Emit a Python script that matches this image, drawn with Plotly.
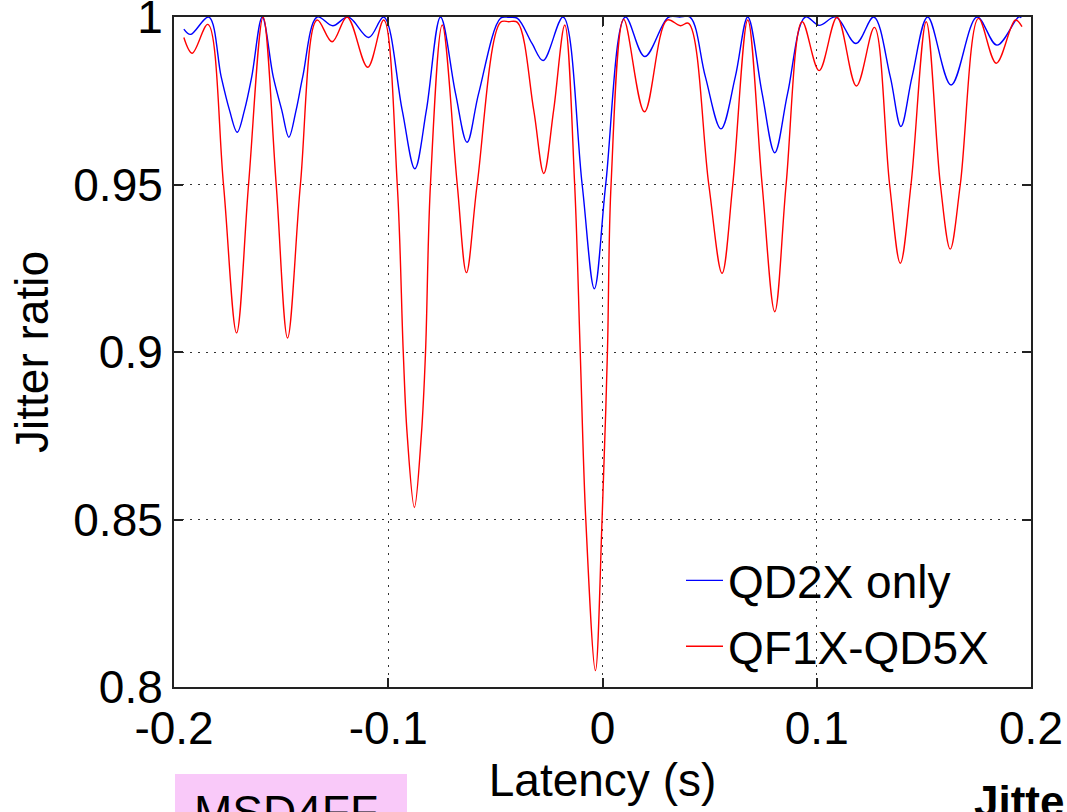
import plotly.graph_objects as go

# Latency scan of the jitter ratio for two corrector configurations
qd2x_latency = [
    -0.1954, -0.1923, -0.1838, -0.1780, -0.1741, -0.1705, -0.1671, -0.1637,
    -0.1588, -0.1537, -0.1497, -0.1464, -0.1430, -0.1399, -0.1332, -0.1259,
    -0.1187, -0.1091, -0.1021, -0.0935, -0.0876, -0.0822, -0.0756, -0.0686,
    -0.0632, -0.0578, -0.0476, -0.0437, -0.0397, -0.0329, -0.0277, -0.0184,
    -0.0095, -0.0038, 0.0015, 0.0107, 0.0197, 0.0307, 0.0360, 0.0410,
    0.0480, 0.0553, 0.0620, 0.0678, 0.0745, 0.0804, 0.0864, 0.0947,
    0.1011, 0.1089, 0.1183, 0.1266, 0.1343, 0.1393, 0.1445, 0.1518,
    0.1627, 0.1748, 0.1841, 0.1942, 0.1955,
]
qd2x_ratio = [
    0.9964, 0.9948, 1.0000, 0.9822, 0.9722, 0.9656, 0.9722, 0.9822,
    1.0000, 0.9822, 0.9722, 0.9641, 0.9722, 0.9822, 1.0000, 0.9974,
    1.0000, 0.9939, 1.0000, 0.9722, 0.9547, 0.9722, 1.0000, 0.9772,
    0.9626, 0.9772, 0.9996, 0.9999, 0.9996, 0.9921, 0.9870, 1.0000,
    0.9500, 0.9189, 0.9500, 1.0000, 0.9882, 0.9999, 1.0000, 0.9999,
    0.9822, 0.9666, 0.9822, 1.0000, 0.9772, 0.9595, 0.9772, 1.0000,
    0.9975, 1.0000, 0.9921, 1.0000, 0.9822, 0.9673, 0.9822, 1.0000,
    0.9797, 1.0000, 0.9916, 1.0000, 0.9998,
]

qf1x_latency = [
    -0.1954, -0.1915, -0.1842, -0.1769, -0.1708, -0.1652, -0.1584, -0.1523,
    -0.1470, -0.1410, -0.1332, -0.1262, -0.1192, -0.1096, -0.1021, -0.0958,
    -0.0930, -0.0912, -0.0878, -0.0845, -0.0826, -0.0803, -0.0748, -0.0678,
    -0.0635, -0.0585, -0.0476, -0.0437, -0.0397, -0.0321, -0.0274, -0.0228,
    -0.0176, -0.0130, -0.0104, -0.0078, -0.0033, -0.0002, 0.0023, 0.0040,
    0.0099, 0.0196, 0.0301, 0.0363, 0.0402, 0.0496, 0.0558, 0.0608,
    0.0678, 0.0745, 0.0804, 0.0857, 0.0932, 0.1011, 0.1095, 0.1185,
    0.1269, 0.1340, 0.1390, 0.1440, 0.1511, 0.1577, 0.1623, 0.1670,
    0.1755, 0.1838, 0.1927, 0.1958,
]
qf1x_ratio = [
    0.9939, 0.9892, 0.9978, 0.9500, 0.9057, 0.9500, 1.0000, 0.9500,
    0.9042, 0.9500, 0.9991, 0.9926, 1.0000, 0.9850, 0.9991, 0.9500,
    0.9000, 0.8757, 0.8536, 0.8757, 0.9000, 0.9500, 0.9976, 0.9500,
    0.9237, 0.9500, 0.9984, 0.9986, 0.9984, 0.9722, 0.9533, 0.9722,
    0.9976, 0.9500, 0.9000, 0.8500, 0.8049, 0.8500, 0.9000, 0.9500,
    0.9993, 0.9717, 0.9991, 0.9974, 0.9981, 0.9500, 0.9235, 0.9500,
    0.9991, 0.9500, 0.9120, 0.9500, 0.9986, 0.9840, 0.9999, 0.9794,
    0.9969, 0.9500, 0.9265, 0.9500, 0.9986, 0.9500, 0.9307, 0.9500,
    0.9996, 0.9862, 0.9991, 0.9971,
]

x_ticks = [-0.2, -0.1, 0.0, 0.1, 0.2]
x_tick_labels = ["-0.2", "-0.1", "0", "0.1", "0.2"]
y_ticks = [0.8, 0.85, 0.9, 0.95, 1.0]
y_tick_labels = ["0.8", "0.85", "0.9", "0.95", "1"]

FONT = "Liberation Sans, Arial, Helvetica, sans-serif"

fig = go.Figure()
fig.add_trace(go.Scatter(
    x=qd2x_latency, y=qd2x_ratio, mode="lines", name="QD2X only",
    line=dict(color="#0000ff", width=1.4, shape="spline", smoothing=1.0),
    legendgroup="a",
))
fig.add_trace(go.Scatter(
    x=qf1x_latency, y=qf1x_ratio, mode="lines", name="QF1X-QD5X",
    line=dict(color="#ff0000", width=1.4, shape="spline", smoothing=1.0),
    legendgroup="b",
))

axis_common = dict(
    showline=True, linecolor="#222222", linewidth=2, mirror="ticks",
    ticks="inside", ticklen=9, tickwidth=1.5, tickcolor="#222222",
    showgrid=True, gridcolor="#333333", gridwidth=1.3, griddash="2px,6px",
    zeroline=False, tickfont=dict(family=FONT, size=46, color="black"),
    automargin=False, ticklabeloverflow="allow",
)

fig.update_xaxes(
    range=[-0.2, 0.2], tickmode="array", tickvals=x_ticks, ticktext=x_tick_labels,
    title=dict(text="Latency (s)", font=dict(family=FONT, size=46), standoff=10),
    **axis_common,
)
fig.update_yaxes(
    range=[0.8, 1.0], tickmode="array", tickvals=y_ticks, ticktext=y_tick_labels,
    title=dict(text="Jitter ratio", font=dict(family=FONT, size=46), standoff=10),
    **axis_common,
)

W, H = 1067, 812
L, R, T, B = 174, 36, 17, 125


def px_x(px):
    return (px - L) / (W - L - R)


def px_y(py):
    return (H - B - py) / (H - T - B)


fig.update_layout(
    width=W, height=H,
    margin=dict(l=L, r=R, t=T, b=B, autoexpand=False),
    paper_bgcolor="white", plot_bgcolor="white",
    font=dict(family=FONT, size=46, color="black"),
    showlegend=True,
    legend=dict(
        x=px_x(681), y=px_y(544), xanchor="left", yanchor="top",
        bgcolor="rgba(0,0,0,0)", borderwidth=0, itemwidth=37,
        font=dict(family=FONT, size=46, color="black"),
        tracegroupgap=3, traceorder="grouped",
    ),
)

# Slide elements peeking in below the plot
fig.add_shape(
    type="rect", xref="paper", yref="paper",
    x0=px_x(175), x1=px_x(407), y0=px_y(830), y1=px_y(774),
    fillcolor="#f9c9f9", line=dict(width=0), layer="below",
)
fig.add_annotation(
    text="MSD4FF", xref="paper", yref="paper",
    x=px_x(192), y=px_y(812), xanchor="left", yanchor="middle",
    showarrow=False, font=dict(family=FONT, size=46, color="black"),
)
fig.add_annotation(
    text="<b>Jitte</b>", xref="paper", yref="paper",
    x=px_x(972), y=px_y(801), xanchor="left", yanchor="middle",
    showarrow=False, font=dict(family=FONT, size=44, color="black"),
)

fig.write_html("out.html")
